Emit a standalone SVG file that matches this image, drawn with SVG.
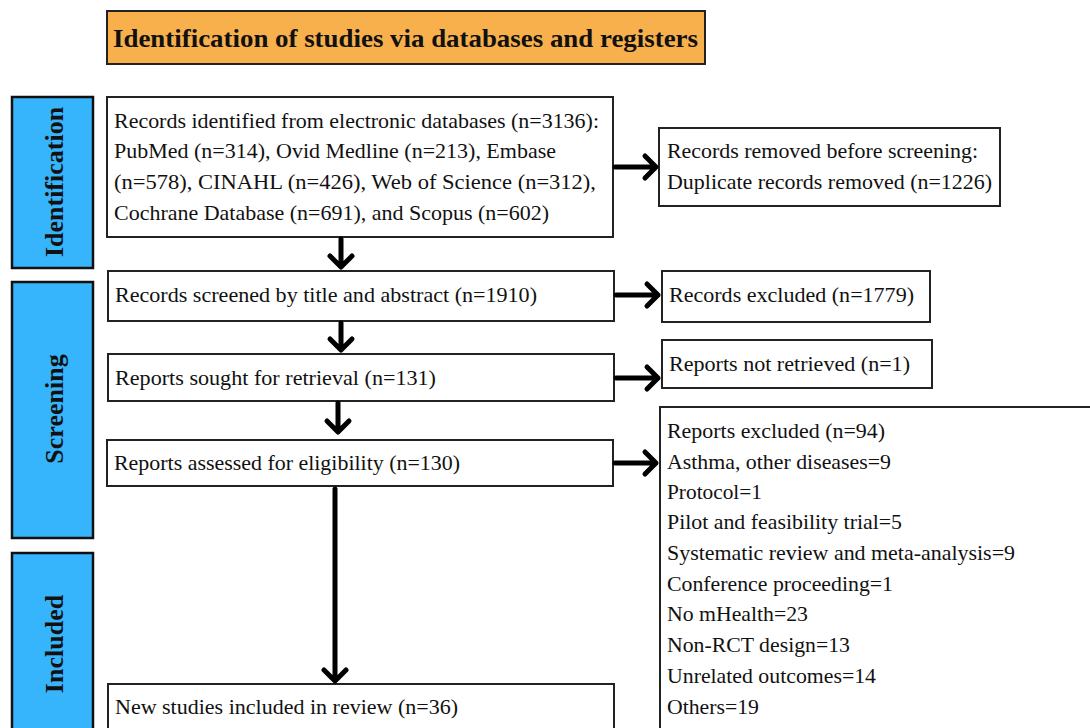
<svg xmlns="http://www.w3.org/2000/svg" width="1090" height="728" viewBox="0 0 1090 728">
<defs>
<style>
.box{fill:#fff;stroke:#222;stroke-width:2}
.bar{fill:#36b4fc;stroke:#111;stroke-width:2.5}
.title{fill:#f8b04c;stroke:#222;stroke-width:2}
.t{font-family:'Liberation Serif',serif;font-size:21px;fill:#111}
.tb{font-family:'Liberation Serif',serif;font-size:26px;font-weight:bold;fill:#111}
.conn path{fill:none;stroke:#000;stroke-width:5;stroke-linecap:round;stroke-linejoin:round}
</style>
</defs>
<rect width="1090" height="728" fill="#fff"/>
<g id="title">
<rect class="title" x="107" y="11" width="598" height="53"/>
<text class="tb" x="113" y="47" textLength="585" lengthAdjust="spacingAndGlyphs">Identification of studies via databases and registers</text>
</g>
<g id="bar-identification">
<rect class="bar" x="12" y="97" width="81" height="171"/>
<text class="tb" transform="translate(63,182) rotate(-90)" text-anchor="middle">Identification</text>
</g>
<g id="bar-screening">
<rect class="bar" x="12" y="282" width="81" height="256"/>
<text class="tb" transform="translate(63,409) rotate(-90)" text-anchor="middle">Screening</text>
</g>
<g id="bar-included">
<rect class="bar" x="12" y="553" width="81" height="190"/>
<text class="tb" transform="translate(63,644) rotate(-90)" text-anchor="middle">Included</text>
</g>
<g id="records-identified">
<rect class="box" x="107" y="97" width="506" height="140"/>
<text class="t" x="114" y="128" textLength="485" lengthAdjust="spacingAndGlyphs">Records identified from electronic databases (n=3136):</text>
<text class="t" x="114" y="158" textLength="442" lengthAdjust="spacingAndGlyphs">PubMed (n=314), Ovid Medline (n=213), Embase</text>
<text class="t" x="114" y="189" textLength="482" lengthAdjust="spacingAndGlyphs">(n=578), CINAHL (n=426), Web of Science (n=312),</text>
<text class="t" x="114" y="220" textLength="435" lengthAdjust="spacingAndGlyphs">Cochrane Database (n=691), and Scopus (n=602)</text>
</g>
<g id="records-removed">
<rect class="box" x="659" y="128" width="341" height="78"/>
<text class="t" x="667" y="158" textLength="311" lengthAdjust="spacingAndGlyphs">Records removed before screening:</text>
<text class="t" x="667" y="189" textLength="325" lengthAdjust="spacingAndGlyphs">Duplicate records removed (n=1226)</text>
</g>
<g id="records-screened">
<rect class="box" x="108" y="271" width="506" height="50"/>
<text class="t" x="115" y="302" textLength="422" lengthAdjust="spacingAndGlyphs">Records screened by title and abstract (n=1910)</text>
</g>
<g id="records-excluded">
<rect class="box" x="662" y="271" width="268" height="51"/>
<text class="t" x="669" y="302" textLength="245" lengthAdjust="spacingAndGlyphs">Records excluded (n=1779)</text>
</g>
<g id="reports-sought">
<rect class="box" x="108" y="354" width="506" height="47"/>
<text class="t" x="115" y="385" textLength="321" lengthAdjust="spacingAndGlyphs">Reports sought for retrieval (n=131)</text>
</g>
<g id="reports-not-retrieved">
<rect class="box" x="662" y="340" width="270" height="48"/>
<text class="t" x="669" y="371" textLength="241" lengthAdjust="spacingAndGlyphs">Reports not retrieved (n=1)</text>
</g>
<g id="reports-assessed">
<rect class="box" x="107" y="440" width="506" height="46"/>
<text class="t" x="114" y="470" textLength="346" lengthAdjust="spacingAndGlyphs">Reports assessed for eligibility (n=130)</text>
</g>
<g id="reports-excluded">
<rect class="box" x="660" y="407" width="440" height="340"/>
<text class="t" x="667" y="438" textLength="218" lengthAdjust="spacingAndGlyphs">Reports excluded (n=94)</text>
<text class="t" x="667" y="469" textLength="224" lengthAdjust="spacingAndGlyphs">Asthma, other diseases=9</text>
<text class="t" x="667" y="499" textLength="95" lengthAdjust="spacingAndGlyphs">Protocol=1</text>
<text class="t" x="667" y="529" textLength="235" lengthAdjust="spacingAndGlyphs">Pilot and feasibility trial=5</text>
<text class="t" x="667" y="560" textLength="348" lengthAdjust="spacingAndGlyphs">Systematic review and meta-analysis=9</text>
<text class="t" x="667" y="591" textLength="226" lengthAdjust="spacingAndGlyphs">Conference proceeding=1</text>
<text class="t" x="667" y="621" textLength="141" lengthAdjust="spacingAndGlyphs">No mHealth=23</text>
<text class="t" x="667" y="652" textLength="183" lengthAdjust="spacingAndGlyphs">Non-RCT design=13</text>
<text class="t" x="667" y="683" textLength="209" lengthAdjust="spacingAndGlyphs">Unrelated outcomes=14</text>
<text class="t" x="667" y="714" textLength="92" lengthAdjust="spacingAndGlyphs">Others=19</text>
</g>
<g id="new-studies">
<rect class="box" x="108" y="684" width="506" height="60"/>
<text class="t" x="115" y="714" textLength="343" lengthAdjust="spacingAndGlyphs">New studies included in review (n=36)</text>
</g>
<g id="connectors" class="conn">
<path d="M615,167 H655 M645,156 L656,167 L645,178"/>
<path d="M341,239 V266 M330,256 L341,267 L352,256"/>
<path d="M616,295 H658 M647,284 L658,295 L647,306"/>
<path d="M341,323 V349 M330,339 L341,350 L352,339"/>
<path d="M616,378 H658 M647,367 L658,378 L647,389"/>
<path d="M338,403 V431 M327,421 L338,432 L349,421"/>
<path d="M615,463 H656 M645,452 L656,463 L645,474"/>
<path d="M335,489 V680 M324,670 L335,681 L346,670"/>
</g>
</svg>
